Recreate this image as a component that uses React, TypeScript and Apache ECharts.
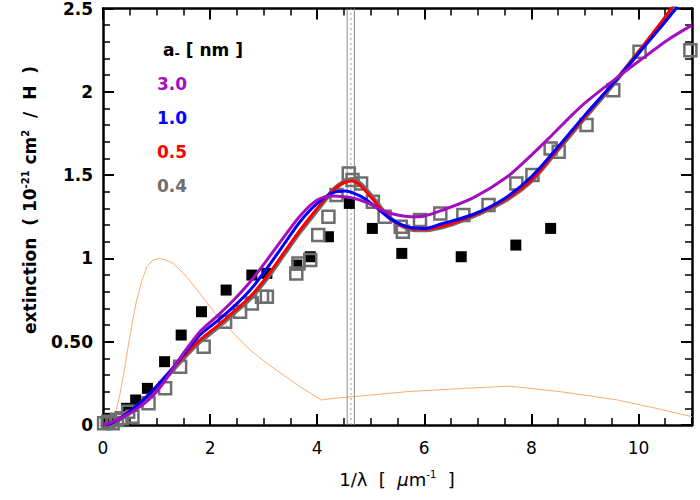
import React, { useEffect, useRef } from "react";
import * as echarts from "echarts";

// ---------- data ----------
const X_TICK_LABELS: Record<string, string> = { "0": "0", "2": "2", "4": "4", "6": "6", "8": "8", "10": "10" };
const Y_TICK_LABELS: Record<string, string> = { "0": "0", "0.5": "0.50", "1": "1", "1.5": "1.5", "2": "2", "2.5": "2.5" };

const SIZE_LABELS = ["3.0", "1.0", "0.5", "0.4"];

const CURVE_3_0: number[][] = [
  [0, 0], [0.1, 0.01], [0.32, 0.04], [0.6, 0.09], [0.85, 0.15], [1.1, 0.24], [1.5, 0.43],
  [1.81, 0.56], [2.12, 0.65], [2.44, 0.75], [2.75, 0.86], [3.06, 0.99], [3.37, 1.125], [3.68, 1.255],
  [4.0, 1.35], [4.3, 1.375], [4.62, 1.365], [4.93, 1.335], [5.24, 1.285], [5.5, 1.26], [5.75, 1.25],
  [6.0, 1.255], [6.3, 1.285], [6.92, 1.365], [7.55, 1.49], [8.0, 1.62], [8.29, 1.71], [8.92, 1.91],
  [9.54, 2.07], [10.16, 2.22], [10.54, 2.31], [11, 2.4],
];
const CURVE_1_0: number[][] = [
  [0, 0], [0.15, 0.01], [0.32, 0.04], [0.57, 0.1], [0.88, 0.19], [1.19, 0.3], [1.5, 0.42], [1.81, 0.54],
  [2.12, 0.62], [2.44, 0.71], [2.75, 0.81], [3.06, 0.94], [3.37, 1.08], [3.68, 1.22], [4.0, 1.33],
  [4.3, 1.395], [4.52, 1.405], [4.8, 1.375], [5.05, 1.32], [5.36, 1.24], [5.68, 1.19], [6.0, 1.18],
  [6.3, 1.205], [6.92, 1.265], [7.5, 1.36], [8.0, 1.49], [8.5, 1.67], [9.0, 1.86], [9.5, 2.04],
  [10.0, 2.23], [10.5, 2.42], [11, 2.62],
];
const CURVE_0_5: number[][] = [
  [0, 0], [0.15, 0.01], [0.32, 0.04], [0.57, 0.1], [0.88, 0.19], [1.19, 0.3], [1.5, 0.41], [1.81, 0.51],
  [2.12, 0.59], [2.44, 0.68], [2.75, 0.77], [3.06, 0.89], [3.37, 1.03], [3.68, 1.17], [4.0, 1.3],
  [4.3, 1.41], [4.5, 1.455], [4.65, 1.465], [4.8, 1.44], [5.05, 1.35], [5.3, 1.26], [5.5, 1.21],
  [5.75, 1.18], [6.0, 1.175], [6.3, 1.19], [6.6, 1.22], [7.0, 1.27], [7.5, 1.35], [8.0, 1.47],
  [8.5, 1.66], [9.0, 1.85], [9.5, 2.04], [10.0, 2.24], [10.5, 2.45], [11, 2.68],
];
const CURVE_0_4: number[][] = [
  [0, 0], [0.15, 0.01], [0.32, 0.035], [0.57, 0.09], [0.88, 0.18], [1.19, 0.29], [1.5, 0.4], [1.81, 0.5],
  [2.12, 0.58], [2.44, 0.67], [2.75, 0.76], [3.06, 0.88], [3.37, 1.02], [3.68, 1.16], [4.0, 1.29],
  [4.3, 1.41], [4.5, 1.46], [4.65, 1.475], [4.8, 1.45], [5.05, 1.36], [5.3, 1.26], [5.5, 1.21],
  [5.75, 1.175], [6.0, 1.17], [6.3, 1.185], [6.6, 1.215], [7.0, 1.265], [7.5, 1.345], [8.0, 1.465],
  [8.5, 1.655], [9.0, 1.845], [9.5, 2.035], [10.0, 2.235], [10.5, 2.44], [11, 2.66],
];

const ORANGE_CURVE: number[][] = [
  [0, 0], [0.15, 0], [0.22, 0.05], [0.32, 0.19], [0.4, 0.33], [0.47, 0.47], [0.55, 0.62], [0.63, 0.75],
  [0.72, 0.86], [0.82, 0.95], [0.93, 0.99], [1.05, 1.0], [1.18, 0.99], [1.31, 0.97], [1.44, 0.93],
  [1.56, 0.89], [1.81, 0.79], [2.12, 0.66], [2.44, 0.55], [2.75, 0.45], [3.06, 0.37], [3.37, 0.3],
  [3.68, 0.23], [4.08, 0.15], [4.3, 0.16], [4.67, 0.17], [5.67, 0.2], [6.75, 0.22], [7.6, 0.233],
  [8.54, 0.2], [9.61, 0.15], [10.33, 0.1], [11, 0.05],
];

const GRAY_OBS: number[][] = [
  [0.02, 0.01], [0.1, 0.02], [0.18, 0.01], [0.26, 0.03], [0.35, 0.04], [0.47, 0.08], [0.55, 0.05],
  [0.85, 0.13], [1.16, 0.22], [1.44, 0.35], [1.88, 0.47], [2.28, 0.62], [2.56, 0.68], [2.78, 0.73],
  [2.97, 0.77], [3.06, 0.77], [3.61, 0.91], [3.65, 0.97], [3.87, 0.99], [4.02, 1.14], [4.21, 1.25],
  [4.36, 1.38], [4.59, 1.51], [4.66, 1.47], [4.82, 1.45], [5.04, 1.34], [5.26, 1.25], [5.56, 1.19],
  [5.6, 1.16], [5.92, 1.23], [6.3, 1.27], [6.73, 1.26], [7.2, 1.32], [7.72, 1.45], [8.02, 1.5],
  [8.36, 1.66], [8.51, 1.64], [9.03, 1.8], [9.53, 2.01], [10.02, 2.24], [10.97, 2.25],
];
const BLACK_OBS: number[][] = [
  [0.06, 0.02], [0.13, 0.04], [0.44, 0.1], [0.61, 0.15], [0.83, 0.22], [1.15, 0.38], [1.46, 0.54],
  [1.84, 0.68], [2.3, 0.81], [2.78, 0.9], [3.06, 0.91], [3.62, 0.96], [3.87, 1.01], [4.21, 1.13],
  [4.6, 1.33], [5.03, 1.18], [5.58, 1.03], [6.69, 1.01], [7.71, 1.08], [8.36, 1.18],
];

const SOLID_VLINES = [4.56, 4.695];
const DOTTED_VLINE = 4.63;

const X_MIN = 0, X_MAX = 11, Y_MIN = 0, Y_MAX = 2.5;

// ---------- styles ----------
const C_PURPLE = "#a30fbf";
const C_BLUE = "#0000ff";
const C_RED = "#ff0000";
const C_GRAY = "#6e6e6e";
const C_ORANGE = "#ffab70";
const FONT = "DejaVu Sans";

export default function App() {
  const ref = useRef<HTMLDivElement>(null);
  useEffect(() => {
    if (!ref.current) return;
    const chart = echarts.init(ref.current, undefined, { renderer: "svg" });

    const tickBase = { show: true, inside: true, lineStyle: { color: "#000", width: 2 } };
    const xMajor = (pos: string, labels: boolean, line: boolean) => ({
      type: "value", position: pos, min: X_MIN, max: X_MAX, interval: 2,
      axisLine: { show: line, onZero: false, lineStyle: { color: "#000", width: 2.5 } },
      axisTick: { ...tickBase, length: 11 },
      axisLabel: labels
        ? { show: true, margin: 14, color: "#000", fontSize: 17, fontFamily: FONT,
            formatter: (v: number) => X_TICK_LABELS[String(v)] ?? "" }
        : { show: false },
      splitLine: { show: false },
    });
    const xMinor = (pos: string) => ({
      type: "value", position: pos, min: X_MIN, max: X_MAX, interval: 0.5,
      axisLine: { show: false, onZero: false },
      axisTick: { show: true, inside: true, length: 7, lineStyle: { color: "#000", width: 1.5 } },
      axisLabel: { show: false }, splitLine: { show: false },
    });
    const yAx = (pos: string, labels: boolean) => ({
      type: "value", position: pos, min: Y_MIN, max: Y_MAX, interval: 0.5,
      axisLine: { show: true, onZero: false, lineStyle: { color: "#000", width: 2.5 } },
      axisTick: { ...tickBase, length: 11 },
      minorTick: { show: true, splitNumber: 5, length: 7, lineStyle: { color: "#000", width: 1.5 } },
      axisLabel: labels
        ? { show: true, margin: 10, color: "#000", fontSize: 17, fontWeight: "bold", fontFamily: FONT,
            formatter: (v: number) => Y_TICK_LABELS[String(v)] ?? "" }
        : { show: false },
      splitLine: { show: false }, minorSplitLine: { show: false },
    });

    const curve = (data: number[][], color: string, width: number, z: number) => ({
      type: "line", data, smooth: 0.3, showSymbol: false, symbol: "none",
      lineStyle: { color, width }, z, clip: true, silent: true,
    });

    const vlineSeries: any[] = SOLID_VLINES.map((x) => ({
      type: "line", data: [[x, Y_MIN], [x, Y_MAX]], showSymbol: false, symbol: "none",
      lineStyle: { color: "#8a8a8a", width: 1 }, z: 1, silent: true,
    }));
    vlineSeries.push({
      type: "line", data: [[DOTTED_VLINE, Y_MIN], [DOTTED_VLINE, Y_MAX]], showSymbol: false, symbol: "none",
      lineStyle: { color: "#9a9a9a", width: 1, type: [2, 3] }, z: 1, silent: true,
    });

    const legendColors = [C_PURPLE, C_BLUE, C_RED, C_GRAY];
    const legendYs = [84, 118, 152, 186];

    chart.setOption({
      animation: false,
      grid: { left: 103, right: 8, top: 6, bottom: 75, containLabel: false },
      xAxis: [xMajor("bottom", true, true), xMinor("bottom"), xMajor("top", false, true), xMinor("top")],
      yAxis: [yAx("left", true), yAx("right", false)],
      series: [
        { type: "line", data: ORANGE_CURVE, showSymbol: false, symbol: "none",
          lineStyle: { color: C_ORANGE, width: 1 }, z: 1, silent: true },
        ...vlineSeries,
        { type: "scatter", data: BLACK_OBS, symbol: "rect", symbolSize: 11,
          itemStyle: { color: "#000", opacity: 1 }, z: 2, silent: true },
        { type: "scatter", data: GRAY_OBS, symbol: "rect", symbolSize: 12,
          itemStyle: { color: "none", borderColor: C_GRAY, borderWidth: 2.5, opacity: 1 }, z: 3, silent: true },
        curve(CURVE_0_4, C_GRAY, 4.5, 4),
        curve(CURVE_0_5, C_RED, 3, 5),
        curve(CURVE_1_0, C_BLUE, 3, 6),
        curve(CURVE_3_0, C_PURPLE, 3, 7),
      ],
      graphic: [
        {
          type: "text", left: 163, top: 41, z: 20,
          style: {
            text: "{a|a}{s|-}{a| [ nm ]}", fill: "#000",
            rich: {
              a: { fontSize: 17, fontWeight: "bold", fontFamily: FONT, fill: "#000" },
              s: { fontSize: 13, fontWeight: "bold", fontFamily: FONT, fill: "#000", padding: [8, 0, 0, 0] },
            },
          },
        },
        ...SIZE_LABELS.map((s, i) => ({
          type: "text", x: 157, y: legendYs[i], z: 20,
          style: { text: s, fill: legendColors[i], fontSize: 17, fontWeight: "bold", fontFamily: FONT,
                   verticalAlign: "middle", align: "left" },
        })),
        {
          type: "text", x: 30, y: 200, rotation: Math.PI / 2, z: 20,
          style: {
            text: "{t|extinction  ( 10}{u|-21}{t| cm}{u|2}{t|  /  H  )}", align: "center", verticalAlign: "middle",
            rich: {
              t: { fontSize: 17, fontWeight: "bold", fontFamily: FONT, fill: "#000" },
              u: { fontSize: 10, fontWeight: "bold", fontFamily: FONT, fill: "#000", padding: [0, 0, 9, 0] },
            },
          },
        },
        {
          type: "text", x: 397, y: 479, z: 20,
          style: {
            text: "{t|1/λ  [  }{i|μ}{t|m}{u|-1}{t|  ]}", align: "center", verticalAlign: "middle",
            rich: {
              t: { fontSize: 18, fontFamily: FONT, fill: "#000" },
              i: { fontSize: 18, fontFamily: FONT, fontStyle: "italic", fill: "#000" },
              u: { fontSize: 10, fontFamily: FONT, fill: "#000", padding: [0, 0, 9, 0] },
            },
          },
        },
      ],
    });
    return () => chart.dispose();
  }, []);
  return <div ref={ref} style={{ position: "absolute", left: 0, top: 0, width: 700, height: 500, background: "#fff" }} />;
}
